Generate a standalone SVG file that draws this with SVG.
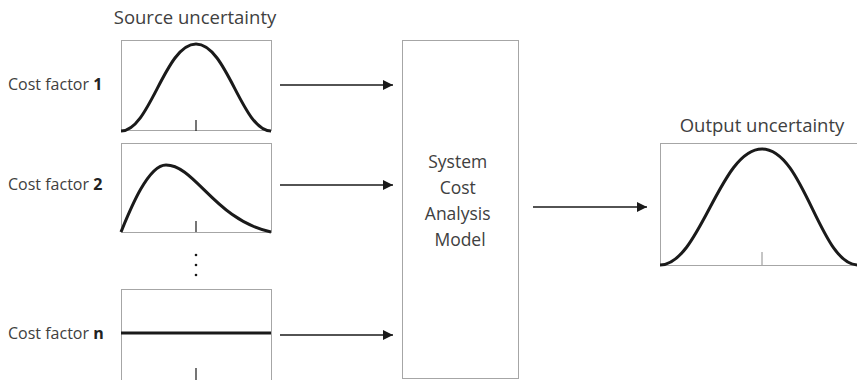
<svg xmlns="http://www.w3.org/2000/svg" width="857" height="380" viewBox="0 0 857 380">
  <defs>
    <marker id="arrow" viewBox="0 0 10 10" refX="10" refY="5" markerWidth="11" markerHeight="10" markerUnits="userSpaceOnUse" orient="auto">
      <path d="M0,0 L10,5 L0,10 z" fill="#1a1a1a"/>
    </marker>
    <style>
      .frame { fill: #ffffff; stroke: #a6a6a6; stroke-width: 1; }
      .curve { fill: none; stroke: #1a1a1a; stroke-width: 3; stroke-linecap: butt; }
      .tick { stroke: #1a1a1a; stroke-width: 1.2; }
      .otick { stroke: #8c8c8c; stroke-width: 1; }
      .link { stroke: #1a1a1a; stroke-width: 1.5; fill: none; marker-end: url(#arrow); }
      .lbl { font-family: "Open Sans", "Noto Sans", sans-serif; fill: #404040; }
      .dot { fill: #1a1a1a; }
    </style>
  </defs>

  <text class="lbl" x="195" y="24" font-size="18.5" text-anchor="middle">Source uncertainty</text>

  <!-- input distribution 1: symmetric bell -->
  <g id="factor1">
    <rect class="frame" x="121.5" y="40.5" width="150" height="90"/>
    <path class="curve" d="M121,131 C150,131 165,44 196,44 C227,44 242,131 271,131"/>
    <line class="tick" x1="196" y1="120" x2="196" y2="131"/>
    <text class="lbl" x="8" y="90" font-size="16">Cost factor <tspan font-weight="bold" fill="#222">1</tspan></text>
  </g>

  <!-- input distribution 2: right-skewed -->
  <g id="factor2">
    <rect class="frame" x="121.5" y="143.5" width="150" height="89"/>
    <path class="curve" d="M121,232 C130,210 148,165 166,165 C195,165 215,220 271,232"/>
    <line class="tick" x1="196" y1="221" x2="196" y2="232"/>
    <text class="lbl" x="8" y="190" font-size="16">Cost factor <tspan font-weight="bold" fill="#222">2</tspan></text>
  </g>

  <!-- vertical ellipsis between factors -->
  <g id="ellipsis">
    <circle class="dot" cx="196" cy="255" r="1.3"/>
    <circle class="dot" cx="196" cy="265" r="1.3"/>
    <circle class="dot" cx="196" cy="275" r="1.3"/>
  </g>

  <!-- input distribution n: flat -->
  <g id="factorN">
    <rect class="frame" x="121.5" y="289.5" width="150" height="92"/>
    <line x1="121" y1="333" x2="271" y2="333" stroke="#1a1a1a" stroke-width="3"/>
    <line class="tick" x1="196" y1="368" x2="196" y2="381"/>
    <text class="lbl" x="8" y="339" font-size="16">Cost factor <tspan font-weight="bold" fill="#222">n</tspan></text>
  </g>

  <!-- model block -->
  <g id="model">
    <rect class="frame" x="402.5" y="40.5" width="116" height="338"/>
    <text class="lbl" font-size="17.5" text-anchor="middle">
      <tspan x="460" y="168">System</tspan>
      <tspan x="460" y="194">Cost</tspan>
      <tspan x="460" y="220">Analysis</tspan>
      <tspan x="460" y="246">Model</tspan>
    </text>
  </g>

  <!-- output distribution -->
  <g id="output">
    <text class="lbl" x="762" y="132" font-size="18.5" text-anchor="middle">Output uncertainty</text>
    <rect class="frame" x="660.5" y="143.5" width="205" height="122"/>
    <line class="otick" x1="762" y1="252" x2="762" y2="265"/>
    <path class="curve" d="M660,265 C700,265 720,149 762,149 C804,149 820,265 858,265"/>
  </g>

  <g id="connectors">
    <line class="link" x1="280" y1="85" x2="393" y2="85"/>
    <line class="link" x1="280" y1="185" x2="393" y2="185"/>
    <line class="link" x1="280" y1="335" x2="393" y2="335"/>
    <line class="link" x1="533" y1="207" x2="647" y2="207"/>
  </g>
</svg>
